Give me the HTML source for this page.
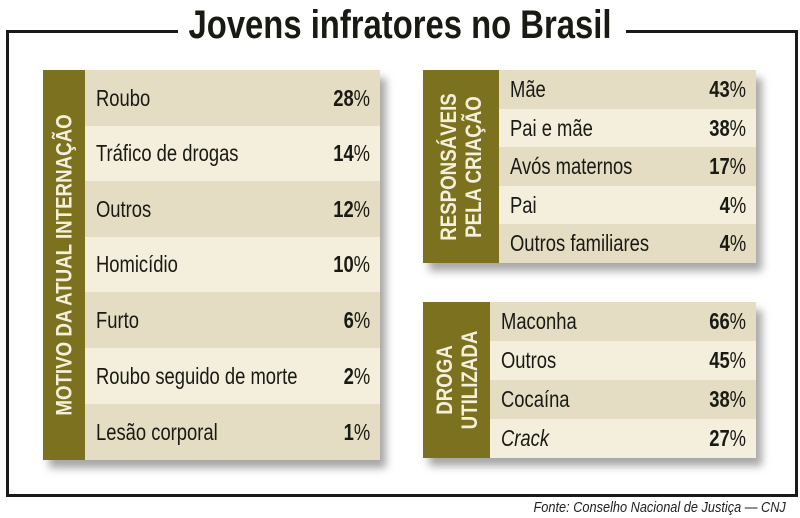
<!DOCTYPE html>
<html><head><meta charset="utf-8"><style>
body{margin:0;width:800px;height:518px;background:#fff;position:relative;overflow:hidden;font-family:"Liberation Sans",sans-serif;color:#1a1a14}
.a{position:absolute}
.frame{left:6px;top:30px;width:786px;height:464px;border:3px solid #1a1a1a;border-top:none}
.tl{top:30px;height:3px;background:#1a1a1a}
.title{left:0;top:3px;width:800px;text-align:center;font-weight:bold;font-size:40px;white-space:nowrap;transform:scaleX(0.82);transform-origin:center}
.box{box-shadow:6px 8px 8px rgba(0,0,0,0.35)}
.ol{background:#7b711f;color:#f5f0dc;font-weight:bold}
.row{position:relative;display:flex;align-items:center;padding:0 10px 0 11px;box-sizing:border-box;font-size:23px;white-space:nowrap}
.row span:first-child{transform:scaleX(0.8);transform-origin:left center}
.row span:last-child{position:absolute;right:10px;transform:scaleX(0.8);transform-origin:right center}
.d{background:#e4ddc3}.l{background:#f3efdc}
.row b{font-weight:bold}
.vt{position:absolute;left:50%;top:50%;transform:translate(-50%,-50%) rotate(-90deg) scaleX(0.85);white-space:nowrap;text-align:center;font-size:22px;line-height:25px}
</style></head><body>
<div class="a frame"></div>
<div class="a tl" style="left:6px;width:172px"></div>
<div class="a tl" style="left:626px;width:169px"></div>
<div class="a title">Jovens infratores no Brasil</div>

<div class="a box" style="left:43px;top:70px;width:337px;height:390px"></div>
<div class="a ol" style="left:43px;top:70px;width:42px;height:390px"><div class="vt">MOTIVO DA ATUAL INTERNAÇÃO</div></div>
<div class="a" style="left:85px;top:70px;width:295px">
<div class="row d" style="height:56px"><span>Roubo</span><span><b>28</b>%</span></div>
<div class="row l" style="height:55px"><span>Tráfico de drogas</span><span><b>14</b>%</span></div>
<div class="row d" style="height:56px"><span>Outros</span><span><b>12</b>%</span></div>
<div class="row l" style="height:55px"><span>Homicídio</span><span><b>10</b>%</span></div>
<div class="row d" style="height:56px"><span>Furto</span><span><b>6</b>%</span></div>
<div class="row l" style="height:56px"><span>Roubo seguido de morte</span><span><b>2</b>%</span></div>
<div class="row d" style="height:56px"><span>Lesão corporal</span><span><b>1</b>%</span></div>
</div>

<div class="a box" style="left:423px;top:70px;width:333px;height:193px"></div>
<div class="a ol" style="left:423px;top:70px;width:76px;height:193px"><div class="vt">RESPONSÁVEIS<br>PELA CRIAÇÃO</div></div>
<div class="a" style="left:499px;top:70px;width:257px">
<div class="row d" style="height:39px"><span>Mãe</span><span><b>43</b>%</span></div>
<div class="row l" style="height:38px"><span>Pai e mãe</span><span><b>38</b>%</span></div>
<div class="row d" style="height:39px"><span>Avós maternos</span><span><b>17</b>%</span></div>
<div class="row l" style="height:38px"><span>Pai</span><span><b>4</b>%</span></div>
<div class="row d" style="height:39px"><span>Outros familiares</span><span><b>4</b>%</span></div>
</div>

<div class="a box" style="left:423px;top:302px;width:333px;height:156px"></div>
<div class="a ol" style="left:423px;top:302px;width:67px;height:156px"><div class="vt">DROGA<br>UTILIZADA</div></div>
<div class="a" style="left:490px;top:302px;width:266px">
<div class="row d" style="height:39px"><span>Maconha</span><span><b>66</b>%</span></div>
<div class="row l" style="height:39px"><span>Outros</span><span><b>45</b>%</span></div>
<div class="row d" style="height:39px"><span>Cocaína</span><span><b>38</b>%</span></div>
<div class="row l" style="height:39px"><span><i>Crack</i></span><span><b>27</b>%</span></div>
</div>

<div class="a" style="right:14px;top:499px;font-size:15px;font-style:italic;color:#222;transform:scaleX(0.85);transform-origin:right">Fonte: Conselho Nacional de Justiça — CNJ</div>
</body></html>
